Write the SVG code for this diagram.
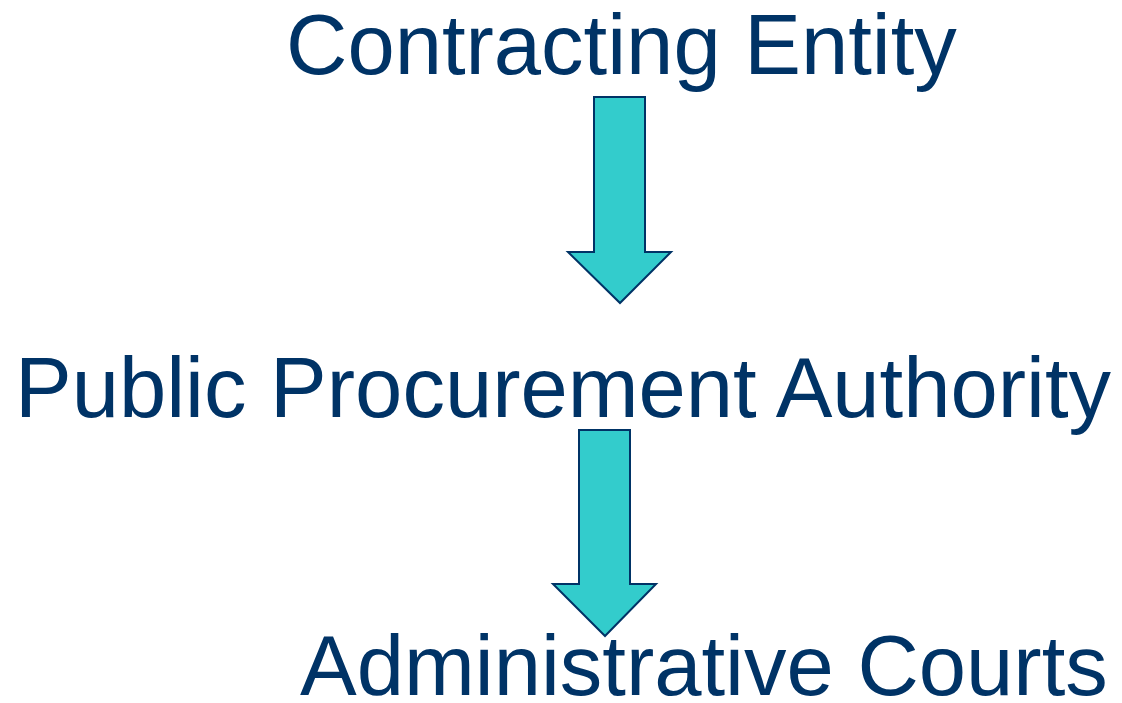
<svg xmlns="http://www.w3.org/2000/svg" width="1122" height="703" viewBox="0 0 1122 703">
<style>
.t{font-family:"Liberation Sans",Arial,sans-serif;font-size:85px;fill:#003366}
.a{fill:#33CCCC;stroke:#003366;stroke-width:2;stroke-linejoin:miter}
</style>
<rect width="1122" height="703" fill="#ffffff"/>
<g id="contracting-entity"><text class="t" x="286" y="74">Contracting Entity</text></g>
<g id="public-procurement-authority"><text class="t" x="15" y="417">Public Procurement Authority</text></g>
<g id="administrative-courts"><text class="t" x="300" y="695">Administrative Courts</text></g>
<g id="connectors">
<polygon class="a" points="594,97 645,97 645,252 671,252 620,303 568,252 594,252"/>
<polygon class="a" points="579,430 630,430 630,584 656,584 605,636 553,584 579,584"/>
</g>
</svg>
